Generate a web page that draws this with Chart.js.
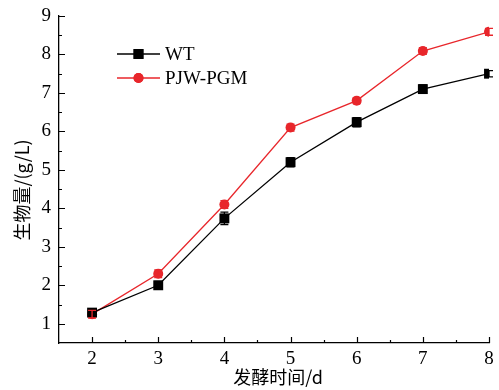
<!DOCTYPE html>
<html>
<head>
<meta charset="utf-8">
<script src="https://cdn.jsdelivr.net/npm/chart.js@4"></script>
<style>
  html, body { margin: 0; padding: 0; background: #fff; }
  #wrap { width: 499px; height: 390px; }
</style>
</head>
<body>
<div id="wrap"><canvas id="chart" width="499" height="390"></canvas></div>
<script>
// Fermentation time (d) and biomass (g/L)
const days = [2, 3, 4, 5, 6, 7, 8];
const wtValues = [1.29, 2.0, 3.74, 5.2, 6.24, 7.1, 7.5];
const wtErrors = [0.1, 0.1, 0.16, 0.12, 0.12, 0.11, 0.08];
const pgmValues = [1.25, 2.3, 4.1, 6.1, 6.8, 8.09, 8.59];
const pgmErrors = [0.1, 0.1, 0.1, 0.09, 0.08, 0.09, 0.09];
const xTicks = [2, 3, 4, 5, 6, 7, 8];
const yTicks = [1, 2, 3, 4, 5, 6, 7, 8, 9];
const xTitle = '发酵时间/d';
const yTitle = '生物量/(g/L)';

const RED = '#e8262b';
const BLACK = '#000000';
const SERIF = '"Liberation Serif", "DejaVu Serif", serif';
const CJK = '"Noto Sans CJK SC", sans-serif';

// error bars + inward ticks + legend + axis titles
const extras = {
    id: 'extras',
    afterDatasetsDraw(chart) {
        const ctx = chart.ctx;
        const xs = chart.scales.x, ys = chart.scales.y;
        ctx.save();
        // error bars
        chart.data.datasets.forEach(ds => {
            ctx.strokeStyle = ds.borderColor;
            ctx.lineWidth = 1.3;
            ds.data.forEach((p, i) => {
                const e = ds.errors[i];
                const px = xs.getPixelForValue(p.x);
                const top = ys.getPixelForValue(p.y + e);
                const bot = ys.getPixelForValue(p.y - e);
                ctx.beginPath();
                ctx.moveTo(px, top); ctx.lineTo(px, bot);
                ctx.moveTo(px - 4, top); ctx.lineTo(px + 4, top);
                ctx.moveTo(px - 4, bot); ctx.lineTo(px + 4, bot);
                ctx.stroke();
            });
        });
        // axis ticks (inward), major and minor
        ctx.strokeStyle = '#000';
        ctx.lineWidth = 1.2;
        ctx.beginPath();
        for (let v = 2; v <= 8.001; v += 0.5) {
            const px = Math.round(xs.getPixelForValue(v)) + 0.5;
            const len = Number.isInteger(v) ? 6 : 3;
            ctx.moveTo(px, xs.top); ctx.lineTo(px, xs.top - len);
        }
        for (let v = 1; v <= 9.001; v += 0.5) {
            const py = Math.round(ys.getPixelForValue(v)) + 0.5;
            const len = Number.isInteger(v) ? 6 : 3;
            ctx.moveTo(ys.right, py); ctx.lineTo(ys.right + len, py);
        }
        ctx.stroke();
        // legend
        const rows = [
            { label: 'WT', color: BLACK, style: 'rect', r: 7, y: 54 },
            { label: 'PJW-PGM', color: RED, style: 'circle', r: 5, y: 78 }
        ];
        rows.forEach(row => {
            ctx.strokeStyle = row.color;
            ctx.lineWidth = 1.3;
            ctx.beginPath();
            ctx.moveTo(117, row.y); ctx.lineTo(160, row.y);
            ctx.stroke();
            ctx.fillStyle = row.color;
            Chart.helpers.drawPoint(ctx, { pointStyle: row.style, radius: row.r, rotation: 0, borderWidth: 0 }, 138.5, row.y);
            ctx.fill();
            ctx.fillStyle = '#000';
            ctx.font = '19px ' + SERIF;
            ctx.textBaseline = 'middle';
            ctx.textAlign = 'left';
            ctx.fillText(row.label, 165, row.y + 1);
        });
        // axis titles
        ctx.fillStyle = '#000';
        ctx.font = '18px ' + CJK;
        ctx.textAlign = 'center';
        ctx.textBaseline = 'middle';
        ctx.fillText(xTitle, 278, 377);
        ctx.translate(22, 190);
        ctx.rotate(-Math.PI / 2);
        ctx.fillText(yTitle, 0, 0);
        ctx.restore();
    }
};

function makeData(values) {
    return values.map((v, i) => ({ x: days[i], y: v }));
}

new Chart(document.getElementById('chart'), {
    type: 'line',
    data: {
        datasets: [
            {
                label: 'WT',
                data: makeData(wtValues),
                errors: wtErrors,
                borderColor: BLACK,
                backgroundColor: BLACK,
                borderWidth: 1.3,
                pointStyle: 'rect',
                pointRadius: 7,
                pointBorderWidth: 0,
                tension: 0
            },
            {
                label: 'PJW-PGM',
                data: makeData(pgmValues),
                errors: pgmErrors,
                borderColor: RED,
                backgroundColor: RED,
                borderWidth: 1.3,
                pointStyle: 'circle',
                pointRadius: 5,
                pointBorderWidth: 0,
                tension: 0
            }
        ]
    },
    options: {
        responsive: false,
        animation: false,
        layout: { padding: { top: 16, right: 10, left: 0, bottom: 0 } },
        plugins: {
            legend: { display: false },
            tooltip: { enabled: false }
        },
        scales: {
            x: {
                type: 'linear',
                min: 1.5,
                max: 8,
                afterBuildTicks: s => { s.ticks = xTicks.map(v => ({ value: v })); },
                afterFit: s => { s.height = 47; },
                grid: { display: false, drawTicks: false },
                border: { display: true, color: '#000', width: 1.3 },
                ticks: { color: '#000', font: { family: SERIF, size: 19 }, padding: 5, maxRotation: 0 }
            },
            y: {
                type: 'linear',
                min: 0.5,
                max: 9,
                afterBuildTicks: s => { s.ticks = yTicks.map(v => ({ value: v })); },
                afterFit: s => { s.width = 59; s.paddingTop = 0; s.paddingBottom = 0; },
                grid: { display: false, drawTicks: false },
                border: { display: true, color: '#000', width: 1.3 },
                ticks: { color: '#000', font: { family: SERIF, size: 19, lineHeight: 1 }, padding: 8 }
            }
        }
    },
    plugins: [extras]
});
</script>
</body>
</html>
